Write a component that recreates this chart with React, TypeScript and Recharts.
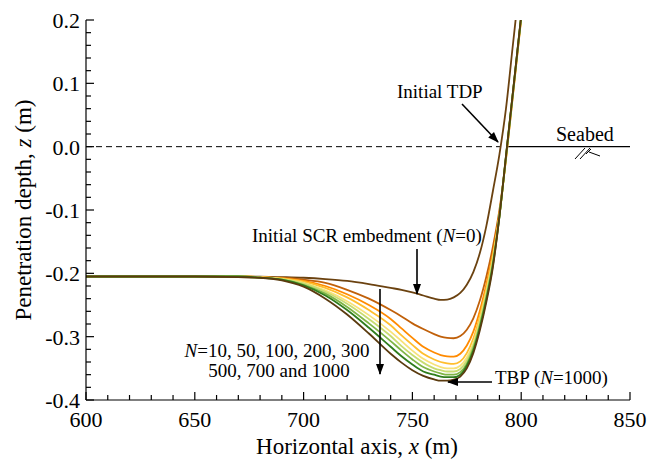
import React from 'react';
import { LineChart, Line, XAxis, YAxis, ReferenceLine } from 'recharts';

const FONT = "'Liberation Serif'";

// horizontal position along the seabed (m)
const xs = [600, 650, 670, 680, 690, 700, 710, 720, 730, 740, 745, 750, 755, 760, 763, 766, 769, 772, 775, 778, 781, 784, 787, 790, 793, 796, 799, 802];

// penetration depth z (m) for each number of cycles N
const zN0 = [-0.205, -0.205, -0.205, -0.2053, -0.206, -0.207, -0.209, -0.212, -0.217, -0.223, -0.226, -0.23, -0.235, -0.24, -0.242, -0.2415, -0.238, -0.231, -0.218, -0.198, -0.168, -0.125, -0.07, -0.012, 0.06, 0.155, 0.25, 0.35];
const zN10 = [-0.205, -0.205, -0.205, -0.206, -0.207, -0.21, -0.215, -0.226, -0.24, -0.258, -0.268, -0.279, -0.288, -0.296, -0.3, -0.302, -0.3025, -0.299, -0.289, -0.271, -0.243, -0.205, -0.158, -0.1, -0.02, 0.075, 0.17, 0.265];
const zN50 = [-0.205, -0.205, -0.205, -0.206, -0.208, -0.212, -0.22, -0.233, -0.25, -0.272, -0.287, -0.302, -0.316, -0.325, -0.329, -0.331, -0.3315, -0.327, -0.314, -0.292, -0.259, -0.217, -0.168, -0.106, -0.018, 0.077, 0.172, 0.267];
const zN100 = [-0.205, -0.205, -0.205, -0.206, -0.208, -0.213, -0.223, -0.238, -0.258, -0.282, -0.298, -0.313, -0.327, -0.336, -0.34, -0.342, -0.343, -0.339, -0.326, -0.303, -0.268, -0.224, -0.173, -0.108, -0.018, 0.077, 0.172, 0.267];
const zN200 = [-0.205, -0.205, -0.205, -0.206, -0.209, -0.215, -0.227, -0.244, -0.266, -0.292, -0.307, -0.322, -0.335, -0.344, -0.348, -0.35, -0.35, -0.346, -0.333, -0.31, -0.274, -0.229, -0.177, -0.109, -0.017, 0.078, 0.173, 0.268];
const zN300 = [-0.205, -0.205, -0.205, -0.207, -0.209, -0.216, -0.229, -0.248, -0.272, -0.299, -0.315, -0.329, -0.341, -0.35, -0.353, -0.355, -0.355, -0.351, -0.338, -0.314, -0.278, -0.233, -0.18, -0.11, -0.016, 0.079, 0.174, 0.269];
const zN500 = [-0.205, -0.205, -0.205, -0.207, -0.21, -0.218, -0.232, -0.253, -0.279, -0.307, -0.322, -0.336, -0.348, -0.355, -0.358, -0.36, -0.36, -0.356, -0.343, -0.318, -0.282, -0.237, -0.183, -0.11, -0.016, 0.079, 0.174, 0.269];
const zN700 = [-0.205, -0.205, -0.205, -0.207, -0.21, -0.219, -0.235, -0.258, -0.286, -0.316, -0.331, -0.344, -0.355, -0.36, -0.363, -0.364, -0.364, -0.36, -0.346, -0.322, -0.286, -0.241, -0.187, -0.11, -0.015, 0.08, 0.175, 0.27];
const zN1000 = [-0.205, -0.205, -0.206, -0.207, -0.211, -0.221, -0.24, -0.265, -0.295, -0.327, -0.341, -0.353, -0.362, -0.3675, -0.3695, -0.3695, -0.368, -0.363, -0.35, -0.326, -0.29, -0.245, -0.19, -0.11, -0.015, 0.08, 0.175, 0.27];

const curves = [
  { key: 'n0', values: zN0, color: '#6b4210' },
  { key: 'n10', values: zN10, color: '#c0600a' },
  { key: 'n50', values: zN50, color: '#ff8a00' },
  { key: 'n100', values: zN100, color: '#ffbe2e' },
  { key: 'n200', values: zN200, color: '#f7e27a' },
  { key: 'n300', values: zN300, color: '#c8dc70' },
  { key: 'n500', values: zN500, color: '#7fb545' },
  { key: 'n700', values: zN700, color: '#2f7d1c' },
  { key: 'n1000', values: zN1000, color: '#5a3a0e' },
];

const xMajor = [600, 650, 700, 750, 800, 850];
const yMajor = [0.2, 0.1, 0.0, -0.1, -0.2, -0.3, -0.4];

// minor ticks every 10 m and every 0.02 m
const xTicks: number[] = [];
for (let v = 600; v <= 850; v += 10) xTicks.push(v);
const yTicks: number[] = [];
for (let i = 0; i <= 30; i++) yTicks.push(Math.round((-0.4 + i * 0.02) * 100) / 100);

const rows = xs.map((x, i) => {
  const r: any = { x };
  curves.forEach(c => { r[c.key] = c.values[i]; });
  return r;
});

const fmtY = (v: number) => (Math.abs(v) < 1e-9 ? '0.0' : v.toFixed(1));
const serif = { fontFamily: FONT };

const XTick = (props: any) => {
  const { x, y, payload } = props;
  const v = payload.value;
  const major = xMajor.includes(v);
  return (
    <g>
      <line x1={x} y1={y} x2={x} y2={y - (major ? 8 : 5)} stroke="#000" strokeWidth={1.2} />
      {major && (
        <text x={x} y={y + 27} textAnchor="middle" fontSize={22} style={serif} fill="#000">{v}</text>
      )}
    </g>
  );
};

const YTick = (props: any) => {
  const { x, y, payload } = props;
  const v = payload.value;
  const major = yMajor.some(m => Math.abs(m - v) < 1e-6);
  return (
    <g>
      <line x1={x} y1={y} x2={x + (major ? 8 : 5)} y2={y} stroke="#000" strokeWidth={1.2} />
      {major && (
        <text x={x - 6} y={y + 8} textAnchor="end" fontSize={22} style={serif} fill="#000">{fmtY(v)}</text>
      )}
    </g>
  );
};

const Notes = () => (
  <svg width={669} height={463} style={{ position: 'absolute', left: 0, top: 0, pointerEvents: 'none' }}>
    <defs>
      <marker id="ah" markerWidth="11" markerHeight="8" refX="10" refY="4" orient="auto" markerUnits="userSpaceOnUse">
        <path d="M0,0 L11,4 L0,8 z" fill="#000" />
      </marker>
    </defs>
    <g style={serif} fill="#000" fontSize={19}>
      <text x={397} y={98}>Initial TDP</text>
      <text x={556} y={141} fontSize={20}>Seabed</text>
      <text x={252} y={242}>
        Initial SCR embedment (<tspan fontStyle="italic">N</tspan>=0)
      </text>
      <text x={277} y={357} textAnchor="middle">
        <tspan fontStyle="italic">N</tspan>=10, 50, 100, 200, 300
      </text>
      <text x={279} y={377} textAnchor="middle">500, 700 and 1000</text>
      <text x={495} y={384}>
        TBP (<tspan fontStyle="italic">N</tspan>=1000)
      </text>
      <text x={357} y={454} textAnchor="middle" fontSize={23}>
        Horizontal axis, <tspan fontStyle="italic">x</tspan> (m)
      </text>
      <text transform="rotate(-90)" x={-210} y={31} textAnchor="middle" fontSize={23}>
        Penetration depth, <tspan fontStyle="italic">z</tspan> (m)
      </text>
    </g>
    <g stroke="#000" strokeWidth={1.6} fill="none">
      <line x1={462} y1={104} x2={498} y2={142} markerEnd="url(#ah)" />
      <line x1={417} y1={249} x2={417} y2={294} markerEnd="url(#ah)" />
      <line x1={380} y1={289} x2={380} y2={374} markerEnd="url(#ah)" />
      <line x1={492} y1={382} x2={448} y2={382} markerEnd="url(#ah)" />
    </g>
    <g stroke="#000" strokeWidth={1}>
      <line x1={575} y1={159} x2={585} y2={148} />
      <line x1={580} y1={159} x2={590} y2={148} />
      <line x1={586} y1={154} x2={591} y2={149} />
      <line x1={589} y1={152} x2={600} y2={156} />
    </g>
  </svg>
);

export default function App() {
  return (
    <div style={{ position: 'absolute', left: 0, top: 0, width: 669, height: 463, background: '#fff' }}>
      <LineChart width={669} height={463} data={rows} margin={{ top: 20, right: 39, bottom: 0, left: 0 }}>
        <XAxis
          dataKey="x"
          type="number"
          domain={[600, 850]}
          ticks={xTicks}
          interval={0}
          tickSize={0}
          tickMargin={0}
          tickLine={false}
          tick={<XTick />}
          height={63}
          axisLine={{ stroke: '#000', strokeWidth: 1.2 }}
          allowDataOverflow
        />
        <YAxis
          type="number"
          domain={[-0.4, 0.2]}
          ticks={yTicks}
          interval={0}
          tickSize={0}
          tickMargin={0}
          tickLine={false}
          tick={<YTick />}
          width={86}
          axisLine={{ stroke: '#000', strokeWidth: 1.2 }}
          allowDataOverflow
        />
        <ReferenceLine
          segment={[{ x: 600, y: 0 }, { x: 790.5, y: 0 }]}
          stroke="#000"
          strokeWidth={1}
          strokeDasharray="6 4"
        />
        <ReferenceLine
          segment={[{ x: 794, y: 0 }, { x: 850, y: 0 }]}
          stroke="#000"
          strokeWidth={1.2}
        />
        {curves.map(c => (
          <Line
            key={c.key}
            dataKey={c.key}
            type="monotone"
            stroke={c.color}
            strokeWidth={1.8}
            dot={false}
            isAnimationActive={false}
          />
        ))}
      </LineChart>
      <Notes />
    </div>
  );
}
